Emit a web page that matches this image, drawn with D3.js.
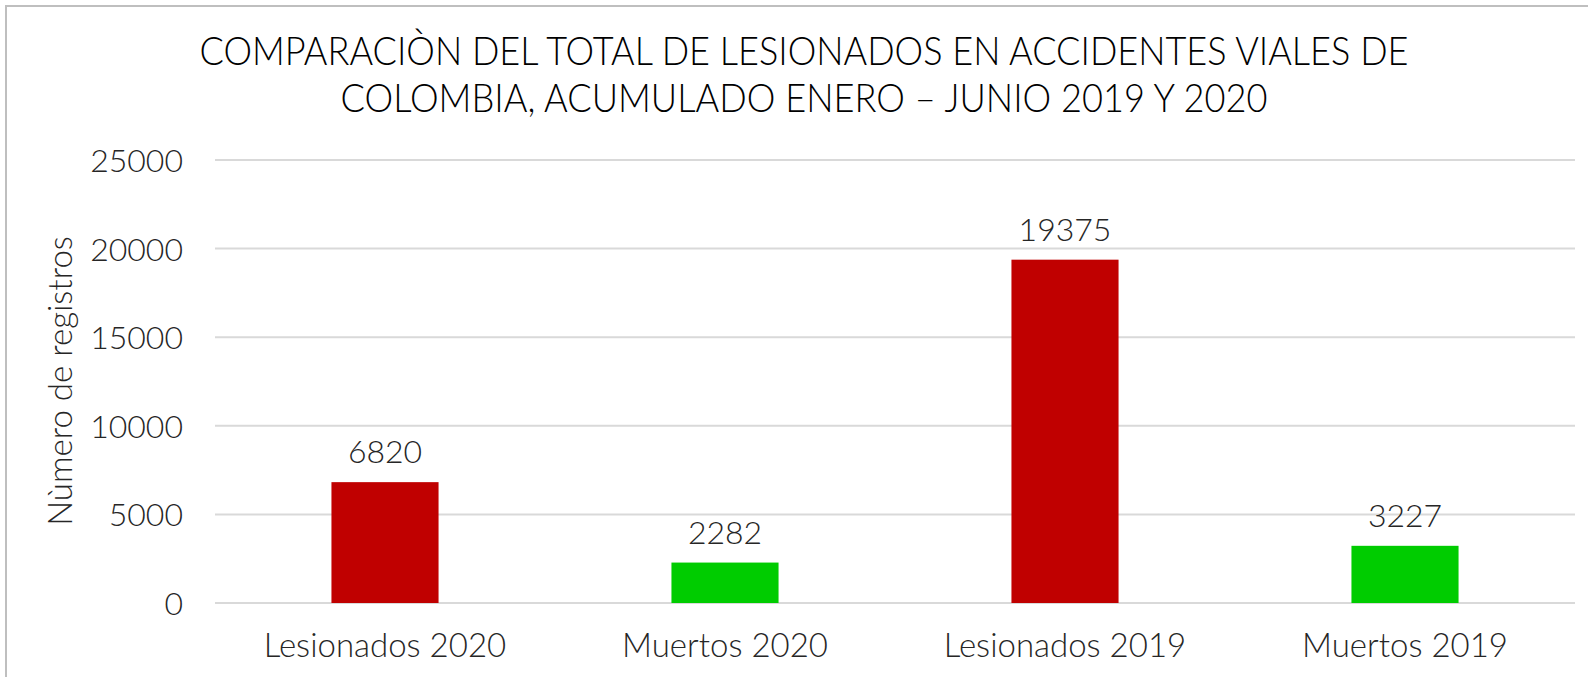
<!DOCTYPE html>
<meta charset="utf-8">
<style>

body {
  margin: 0;
  background: #fff;
  font-family: Lato, "DejaVu Sans", sans-serif;
}

.grid line {
  stroke: #d9d9d9;
  stroke-width: 2;
}

.yaxis text {
  font-family: Lato, "DejaVu Sans", sans-serif;
  font-size: 32px;
  font-weight: 300;
  fill: #262626;
}

.xlabel {
  font-size: 33px;
  font-weight: 300;
  fill: #262626;
}

.value {
  font-size: 32px;
  font-weight: 300;
  fill: #262626;
}

.title {
  font-size: 39px;
  font-weight: 300;
  fill: #000;
}

</style>
<svg width="1588" height="677"></svg>
<script src="https://cdnjs.cloudflare.com/ajax/libs/d3/7.8.5/d3.min.js"></script>
<script>

var categories = ["Lesionados 2020", "Muertos 2020", "Lesionados 2019", "Muertos 2019"];
var values = [6820, 2282, 19375, 3227];
var colors = ["#c00000", "#00cc00", "#c00000", "#00cc00"];
var yTicks = [0, 5000, 10000, 15000, 20000, 25000];
var titleLines = [
  "COMPARACIÒN DEL TOTAL DE LESIONADOS EN ACCIDENTES VIALES DE",
  "COLOMBIA, ACUMULADO ENERO – JUNIO 2019 Y 2020"
];
var yTitle = "Nùmero de registros";

var svg = d3.select("svg");

// chart frame, only top and left edges fall inside the picture
svg.append("rect")
    .attr("x", 6)
    .attr("y", 6)
    .attr("width", 1620)
    .attr("height", 720)
    .attr("fill", "#fff")
    .attr("stroke", "#bfbfbf")
    .attr("stroke-width", 2);

var x = d3.scaleBand()
    .domain(categories)
    .range([215, 1575])
    .paddingInner(0.685)
    .paddingOuter(0.3425);

var y = d3.scaleLinear()
    .domain([0, 25000])
    .range([603, 160]);

// gridlines
svg.append("g")
    .attr("class", "grid")
    .selectAll("line")
    .data(yTicks)
    .enter().append("line")
      .attr("x1", 215)
      .attr("x2", 1575)
      .attr("y1", function(d) { return y(d); })
      .attr("y2", function(d) { return y(d); });

// y axis labels
var yAxis = svg.append("g")
    .attr("class", "yaxis")
    .attr("transform", "translate(215,0)")
    .call(d3.axisLeft(y).tickValues(yTicks).tickSize(0).tickPadding(32).tickFormat(d3.format("d")));
yAxis.attr("font-family", null).attr("font-size", null);
yAxis.select(".domain").remove();
yAxis.selectAll("text").attr("dy", "0.36em");

// bars
svg.append("g")
  .selectAll("rect")
  .data(values)
  .enter().append("rect")
    .attr("x", function(d, i) { return x(categories[i]); })
    .attr("width", x.bandwidth())
    .attr("y", function(d) { return y(d); })
    .attr("height", function(d) { return y(0) - y(d); })
    .attr("fill", function(d, i) { return colors[i]; });

// value labels
svg.append("g")
  .selectAll("text")
  .data(values)
  .enter().append("text")
    .attr("class", "value")
    .attr("text-anchor", "middle")
    .attr("x", function(d, i) { return x(categories[i]) + x.bandwidth() / 2; })
    .attr("y", function(d) { return y(d) - 19; })
    .text(function(d) { return d; });

// category labels
svg.append("g")
  .selectAll("text")
  .data(categories)
  .enter().append("text")
    .attr("class", "xlabel")
    .attr("text-anchor", "middle")
    .attr("x", function(d) { return x(d) + x.bandwidth() / 2; })
    .attr("y", 657)
    .text(function(d) { return d; });

// y axis title
svg.append("text")
    .attr("class", "xlabel")
    .attr("text-anchor", "middle")
    .attr("transform", "translate(72,381) rotate(-90)")
    .text(yTitle);

// title, squeezed a little to the reference width
svg.append("g")
  .selectAll("text")
  .data(titleLines)
  .enter().append("text")
    .attr("class", "title")
    .attr("text-anchor", "middle")
    .attr("x", 804)
    .attr("y", function(d, i) { return 65 + i * 47; })
    .attr("textLength", function(d, i) { return i == 0 ? 1209 : 927; })
    .attr("lengthAdjust", "spacingAndGlyphs")
    .text(function(d) { return d; });

</script>
